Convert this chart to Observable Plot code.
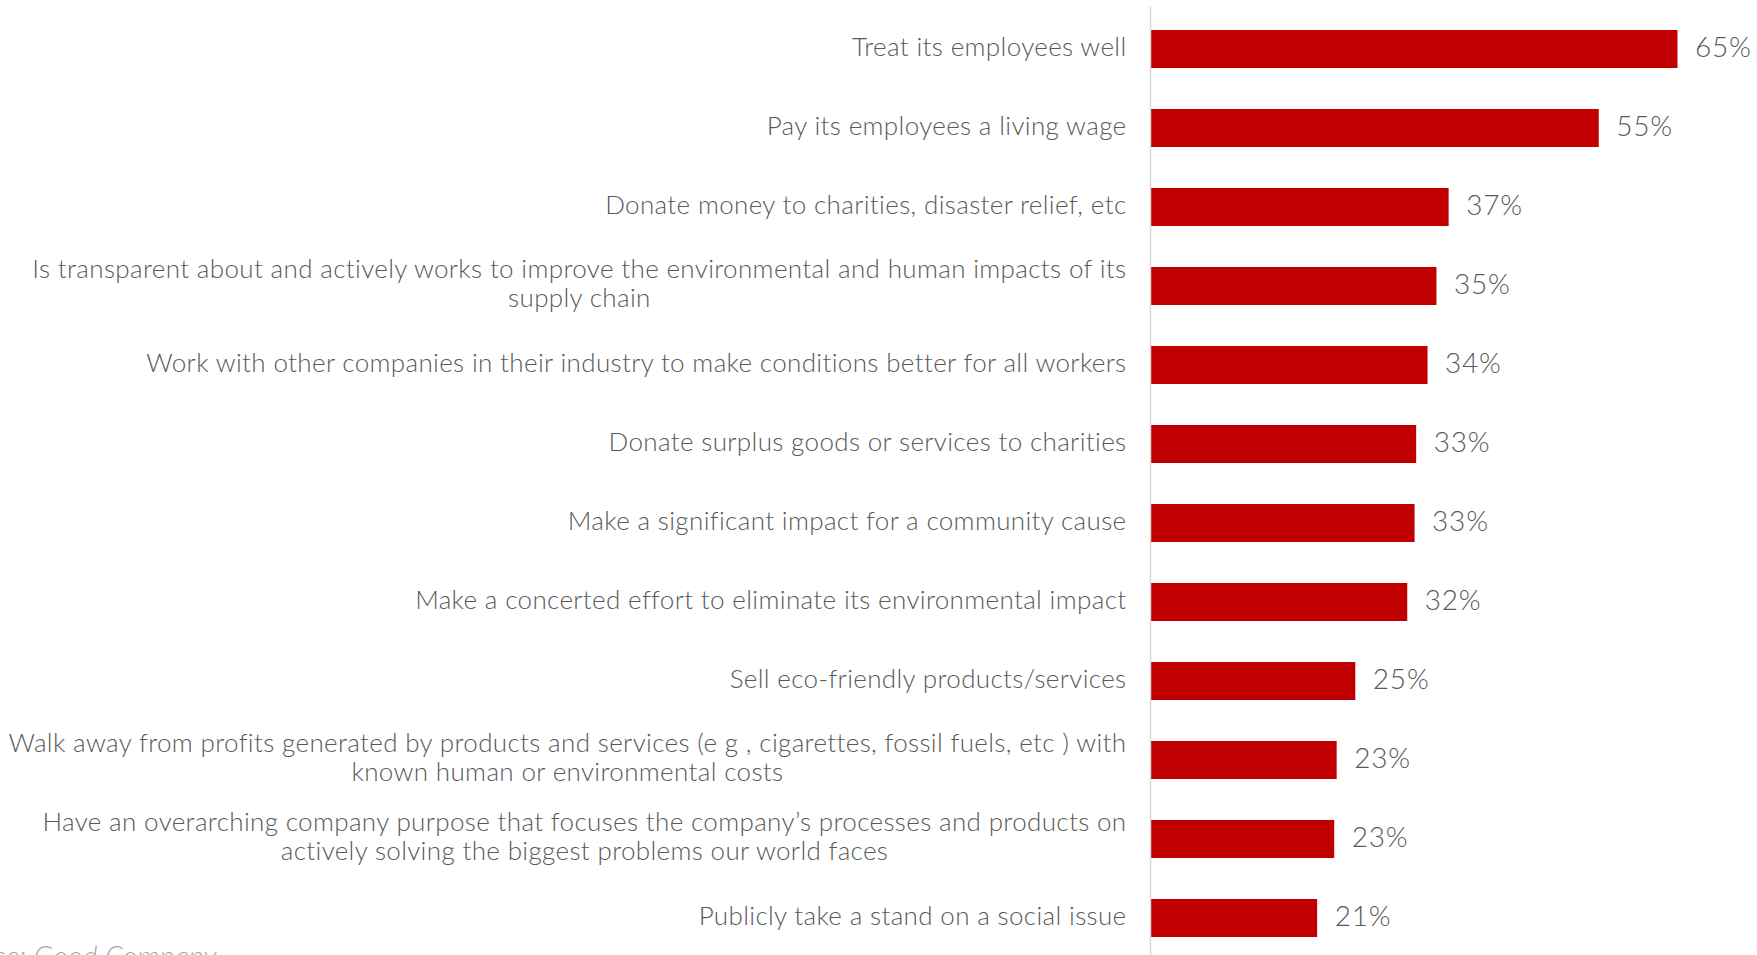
<!DOCTYPE html>
<html><head><meta charset="utf-8">
<script src="https://cdn.jsdelivr.net/npm/d3@7"></script>
<script src="https://cdn.jsdelivr.net/npm/@observablehq/plot@0.6"></script>
<style>
html,body{margin:0;padding:0;width:1757px;height:955px;overflow:hidden;background:#fff;}
#chart{position:absolute;left:0;top:0;}
#caption{position:absolute;left:-183px;width:400px;text-align:right;top:941px;font-family:Lato;font-style:italic;font-weight:300;font-size:28px;line-height:28px;letter-spacing:0.4px;color:#a6a6a6;white-space:nowrap;}
</style></head><body>
<div id="chart"></div>
<div id="caption">Source: Good Company</div>
<script>
const categories = [
  "Treat its employees well",
  "Pay its employees a living wage",
  "Donate money to charities, disaster relief, etc",
  "Is transparent about and actively works to improve the environmental and human impacts of its\nsupply chain",
  "Work with other companies in their industry to make conditions better for all workers",
  "Donate surplus goods or services to charities",
  "Make a significant impact for a community cause",
  "Make a concerted effort to eliminate its environmental impact",
  "Sell eco-friendly products/services",
  "Walk away from profits generated by products and services (e g , cigarettes, fossil fuels, etc ) with\nknown human or environmental costs",
  "Have an overarching company purpose that focuses the company\u2019s processes and products on\nactively solving the biggest problems our world faces",
  "Publicly take a stand on a social issue"
];
const values = [65.0, 55.3, 36.8, 35.3, 34.2, 32.8, 32.6, 31.7, 25.3, 23.0, 22.7, 20.6];
const valueLabels = ["65%", "55%", "37%", "35%", "34%", "33%", "33%", "32%", "25%", "23%", "23%", "21%"];

const rows = categories.map((c, i) => ({category: c, value: values[i], label: valueLabels[i]}));

const chart = Plot.plot({
  width: 1757,
  height: 955,
  marginLeft: 1150,
  marginRight: 0,
  marginTop: 7,
  marginBottom: -4,
  x: {domain: [0, 74.8], axis: null},
  y: {domain: categories, axis: null, paddingInner: 0.52, paddingOuter: 0.26},
  style: {background: "transparent", fontFamily: "Lato", overflow: "visible"},
  marks: [
    Plot.barX(rows, {x: "value", y: "category", fill: "#c00000"}),
    Plot.ruleX([0], {stroke: "#d9d9d9", strokeWidth: 1.5}),
    Plot.text(rows, {x: 0, y: "category", text: "category", textAnchor: "end", dx: -24, dy: -3,
      fontSize: 26, fontWeight: 300, fill: "#595959", lineHeight: 1.12, className: "cat"}),
    Plot.text(rows, {x: "value", y: "category", text: "label", textAnchor: "start", dx: 17, dy: -1,
      fontSize: 28, fontWeight: 300, fill: "#595959", className: "val"})
  ]
});
document.getElementById("chart").appendChild(chart);
chart.querySelectorAll("g.cat text").forEach(t => t.style.letterSpacing = "0.35px");
chart.querySelectorAll("g.val text").forEach(t => t.style.letterSpacing = "0.8px");

// center the lines of multi-line category labels within their right-aligned block
chart.querySelectorAll("g.cat text").forEach(t => {
  const spans = t.querySelectorAll("tspan");
  if (spans.length > 1) {
    let w = 0;
    spans.forEach(s => { w = Math.max(w, s.getComputedTextLength()); });
    t.setAttribute("text-anchor", "middle");
    spans.forEach(s => s.setAttribute("x", -w / 2));
  }
});
</script>
</body></html>
